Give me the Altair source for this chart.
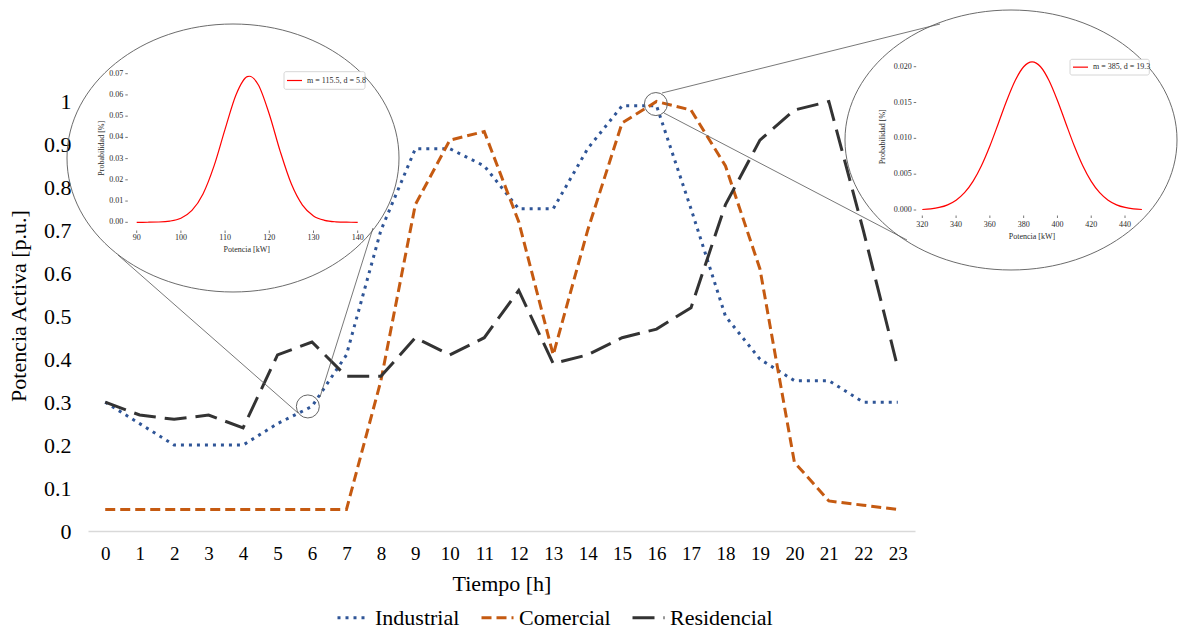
import altair as alt
import pandas as pd

FONT = "Liberation Serif"

# ---- daily load profiles (p.u.) ----
hours = list(range(24))
industrial = [0.30, 0.25, 0.20, 0.20, 0.20, 0.25, 0.29, 0.41, 0.70, 0.89, 0.89, 0.85,
              0.75, 0.75, 0.89, 0.99, 0.99, 0.75, 0.50, 0.40, 0.35, 0.35, 0.30, 0.30]
comercial = [0.05, 0.05, 0.05, 0.05, 0.05, 0.05, 0.05, 0.05, 0.35, 0.76, 0.91, 0.93,
             0.72, 0.41, 0.70, 0.95, 1.00, 0.98, 0.85, 0.61, 0.16, 0.07, 0.06, 0.05]
residencial = [0.30, 0.27, 0.26, 0.27, 0.24, 0.41, 0.44, 0.36, 0.36, 0.45, 0.41, 0.45,
               0.56, 0.39, 0.41, 0.45, 0.47, 0.52, 0.76, 0.91, 0.98, 1.00, 0.70, 0.38]
series_names = ["Industrial", "Comercial", "Residencial"]
series_colors = ["#2F5597", "#C55A11", "#333333"]
series_dashes = [[3, 5], [10, 5], [22, 9]]
y_ticks = [0, 0.1, 0.2, 0.3, 0.4, 0.5, 0.6, 0.7, 0.8, 0.9, 1]

# ---- probability density at 06:00 (industrial) ----
pot_a = [90, 92.5, 95, 97.5, 100, 102.5, 105, 107.5, 110, 112.5, 115, 115.5,
         117.5, 120, 122.5, 125, 127.5, 130, 132.5, 135, 137.5, 140]
prob_a = [0.00000, 0.00003, 0.00013, 0.00056, 0.00194, 0.00559, 0.01336, 0.02658,
          0.04390, 0.06020, 0.06860, 0.06880, 0.06480, 0.05090, 0.03320, 0.01800,
          0.00810, 0.00302, 0.00094, 0.00024, 0.00005, 0.00001]
ticks_a_x = [90, 100, 110, 120, 130, 140]
ticks_a_y = [0.00, 0.01, 0.02, 0.03, 0.04, 0.05, 0.06, 0.07]
label_a = "m = 115.5, d = 5.8"

# ---- probability density at 16:00 (comercial) ----
pot_b = [320, 325, 330, 335, 340, 345, 350, 355, 360, 365, 370, 375, 380, 385,
         390, 395, 400, 405, 410, 415, 420, 425, 430, 435, 440, 445, 450]
prob_b = [0.000071, 0.000165, 0.000356, 0.000722, 0.001364, 0.002412, 0.003993,
          0.006178, 0.008934, 0.012080, 0.015280, 0.018070, 0.019990, 0.020670,
          0.019990, 0.018070, 0.015280, 0.012080, 0.008934, 0.006178, 0.003993,
          0.002412, 0.001364, 0.000722, 0.000356, 0.000165, 0.000071]
ticks_b_x = [320, 340, 360, 380, 400, 420, 440]
ticks_b_y = [0.000, 0.005, 0.010, 0.015, 0.020]
label_b = "m = 385, d = 19.3"

# ---- layout (page pixels) ----
X0, Y0 = 88, 80          # plot origin on the page
W, H = 827, 451          # plot area


def px(x):
    return x - X0


def py(y):
    return y - Y0


one = pd.DataFrame({"k": [0]})

main = pd.DataFrame({
    "Tiempo": hours * 3,
    "Potencia": industrial + comercial + residencial,
    "Serie": [s for s in series_names for _ in hours],
})

x_main = alt.Scale(domain=[-0.5, 23.5], nice=False, zero=False)
y_main = alt.Scale(domain=[0, 1.05], nice=False)

legend = alt.Legend(
    title=None, orient="none", legendX=248, legendY=520, direction="horizontal",
    symbolType="stroke", symbolSize=1024, symbolStrokeWidth=3,
    labelFont=FONT, labelFontSize=22, labelColor="#000000", labelOffset=4,
    columnPadding=15,
)

lines = alt.Chart(main).mark_line(strokeWidth=3).encode(
    x=alt.X("Tiempo:Q", scale=x_main, axis=alt.Axis(
        values=hours, format="d", title="Tiempo [h]", grid=False, ticks=False,
        domainColor="#D9D9D9", domainWidth=1.5, labelFont=FONT, labelFontSize=19,
        labelColor="#000000", labelPadding=13, labelFlush=False,
        titleFont=FONT, titleFontSize=22, titleFontWeight="normal",
        titleColor="#000000", titlePadding=10)),
    y=alt.Y("Potencia:Q", scale=y_main, axis=alt.Axis(
        values=y_ticks, format=".1~f", title="Potencia Activa [p.u.]", grid=False,
        ticks=False, domain=False, labelFont=FONT, labelFontSize=22,
        labelColor="#000000", labelPadding=17,
        titleFont=FONT, titleFontSize=22, titleFontWeight="normal",
        titleColor="#000000", titlePadding=13)),
    color=alt.Color("Serie:N", scale=alt.Scale(domain=series_names, range=series_colors),
                    legend=legend),
    strokeDash=alt.StrokeDash("Serie:N", scale=alt.Scale(domain=series_names,
                                                         range=series_dashes),
                              legend=legend),
)


def segment(x1, y1, x2, y2, color="#555555", width=0.8):
    return alt.Chart(one).mark_rule(color=color, stroke=color, strokeWidth=width).encode(
        x=alt.value(px(x1)), y=alt.value(py(y1)),
        x2=alt.value(px(x2)), y2=alt.value(py(y2)))


connectors = [
    segment(118, 255, 298, 413),
    segment(320, 397, 373, 228),
    segment(662, 93, 940, 24),
    segment(664, 113, 907, 240),
]

# small circles marking the zoomed points
zoom_pts = pd.DataFrame({"Tiempo": [5.88, 15.98], "Potencia": [0.29, 0.994]})
circles = alt.Chart(zoom_pts).mark_point(
    shape="circle", size=530, filled=False, stroke="#666666", strokeWidth=1, opacity=1
).encode(
    x=alt.X("Tiempo:Q", scale=x_main, axis=None),
    y=alt.Y("Potencia:Q", scale=y_main, axis=None),
)


def ellipse(cx, cy, rx, ry):
    e = ry / rx
    k = 0.5523
    path = (f"M1,0 C1,{e*k:.4f} {k},{e:.4f} 0,{e:.4f} "
            f"C{-k},{e:.4f} -1,{e*k:.4f} -1,0 "
            f"C-1,{-e*k:.4f} {-k},{-e:.4f} 0,{-e:.4f} "
            f"C{k},{-e:.4f} 1,{-e*k:.4f} 1,0 Z")
    return alt.Chart(one).mark_point(
        shape=path, size=(2 * rx) ** 2, filled=False,
        stroke="#5A5A5A", strokeWidth=0.9, strokeOpacity=1, opacity=1
    ).encode(x=alt.value(px(cx)), y=alt.value(py(cy)))


def inset(pot, prob, tx, ty, xdom, xr, ydom, yr, yfmt, ylab_x, xlab_y, xtick_y,
          xtitle_pos, ytitle_pos, box, label):
    xs = alt.Scale(domain=xdom, range=[px(xr[0]), px(xr[1])], nice=False, zero=False)
    ys = alt.Scale(domain=ydom, range=[py(yr[0]), py(yr[1])], nice=False, zero=False)
    txt = dict(font=FONT, fontSize=8, color="#2A2A2A", fill="#2A2A2A")
    layers = []
    curve = alt.Chart(pd.DataFrame({"p": pot, "f": prob})).mark_line(
        color="#FF0000", stroke="#FF0000", strokeWidth=1.2, interpolate="monotone"
    ).encode(x=alt.X("p:Q", scale=xs, axis=None), y=alt.Y("f:Q", scale=ys, axis=None))
    layers.append(curve)
    dfx = pd.DataFrame({"v": tx})
    layers.append(alt.Chart(dfx).mark_text(align="center", baseline="middle", **txt).encode(
        x=alt.X("v:Q", scale=xs, axis=None), y=alt.value(py(xlab_y)),
        text=alt.Text("v:Q", format="d")))
    layers.append(alt.Chart(dfx).mark_rule(color="#555555", stroke="#555555",
                                           strokeWidth=0.8).encode(
        x=alt.X("v:Q", scale=xs, axis=None),
        y=alt.value(py(xtick_y)), y2=alt.value(py(xtick_y + 2.5))))
    dfy = pd.DataFrame({"v": ty})
    layers.append(alt.Chart(dfy).mark_text(align="right", baseline="middle", **txt).encode(
        y=alt.Y("v:Q", scale=ys, axis=None), x=alt.value(px(ylab_x)),
        text=alt.Text("v:Q", format=yfmt)))
    layers.append(alt.Chart(dfy).mark_rule(color="#555555", stroke="#555555",
                                           strokeWidth=0.8).encode(
        y=alt.Y("v:Q", scale=ys, axis=None),
        x=alt.value(px(ylab_x + 2)), x2=alt.value(px(ylab_x + 4.5))))
    layers.append(alt.Chart(one).mark_text(align="center", baseline="middle",
                                           text="Potencia [kW]", **txt).encode(
        x=alt.value(px(xtitle_pos[0])), y=alt.value(py(xtitle_pos[1]))))
    layers.append(alt.Chart(one).mark_text(align="center", baseline="middle", angle=270,
                                           text="Probabilidad [%]", **txt).encode(
        x=alt.value(px(ytitle_pos[0])), y=alt.value(py(ytitle_pos[1]))))
    bx0, by0, bx1, by1 = box
    layers.append(alt.Chart(one).mark_rect(fill="white", stroke="#CCCCCC",
                                           strokeWidth=0.8, cornerRadius=2).encode(
        x=alt.value(px(bx0)), x2=alt.value(px(bx1)),
        y=alt.value(py(by0)), y2=alt.value(py(by1))))
    cy = (by0 + by1) / 2
    layers.append(segment(bx0 + 3, cy, bx0 + 18, cy, color="#FF0000", width=1.2))
    layers.append(alt.Chart(one).mark_text(align="left", baseline="middle",
                                           text=label, **txt).encode(
        x=alt.value(px(bx0 + 23)), y=alt.value(py(cy))))
    return layers


inset_a = inset(pot_a, prob_a, ticks_a_x, ticks_a_y, [90, 140], [136.7, 357.7],
                [0, 0.07], [222.3, 73.7], ".2f", 123.3, 238.3, 230.5,
                (246.7, 249.5), (101.7, 148.3), (284, 71.7, 365, 89.3), label_a)
inset_b = inset(pot_b, prob_b, ticks_b_x, ticks_b_y, [320, 450], [922.3, 1141.9],
                [0, 0.02], [210, 66.7], ".3f", 911.7, 225, 215.5,
                (1032, 236.7), (882.7, 136.7), (1070, 59.3, 1149.3, 75), label_b)

chart = alt.layer(
    lines, *connectors, circles,
    ellipse(233, 158, 166, 134), ellipse(1011, 140, 166, 130),
    *inset_a, *inset_b,
).resolve_scale(
    x="independent", y="independent"
).properties(
    width=W, height=H,
    autosize=alt.AutoSizeParams(type="none"),
    padding={"left": X0, "top": Y0, "right": 1180 - X0 - W, "bottom": 631 - Y0 - H},
    background="white",
).configure_view(
    strokeWidth=0
).configure_legend(
    labelFont=FONT, labelFontSize=22, labelColor="#000000"
)

chart.save("out.html", embed_options={"renderer": "svg", "actions": False})
